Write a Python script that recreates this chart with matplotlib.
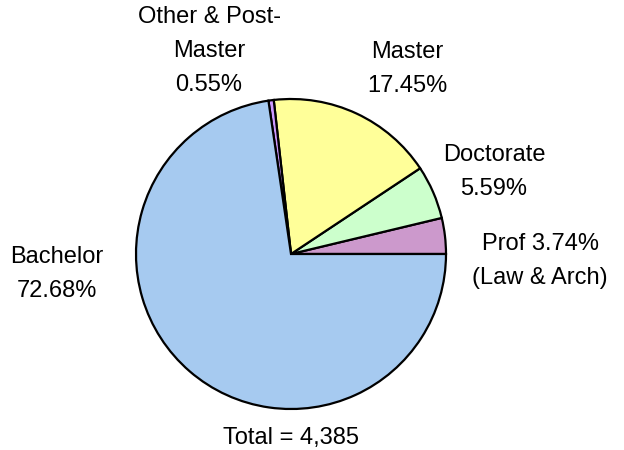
import matplotlib.pyplot as plt

plt.rcParams['font.family'] = ['Liberation Sans', 'DejaVu Sans']

categories = ['Prof', 'Doctorate', 'Master', 'Other & Post-Master', 'Bachelor']
shares = [3.74, 5.59, 17.45, 0.55, 72.68]
colors = ['#CC99CC', '#CCFFCC', '#FFFF99', '#CC99FF', '#A6CAF0']
total = 4385

fig = plt.figure(figsize=(6.24, 4.5), dpi=100)
ax = fig.add_axes([0, 0, 1, 1])
ax.axis('off')

ax.pie(shares, colors=colors, startangle=0, counterclock=True,
       center=(291, 196), radius=155, normalize=True,
       wedgeprops=dict(edgecolor='black', linewidth=1.6))
ax.set_xlim(0, 624)
ax.set_ylim(0, 450)
ax.set_aspect('auto')

labels = [
    f'Prof {shares[0]:.2f}%\n(Law & Arch)',
    f'Doctorate\n{shares[1]:.2f}%',
    f'Master\n{shares[2]:.2f}%',
    f'Other & Post-\nMaster\n{shares[3]:.2f}%',
    f'Bachelor\n{shares[4]:.2f}%',
]
spots = [(540, 189), (494, 278), (407, 381), (209, 399), (57, 176)]
for lab, (x, y) in zip(labels, spots):
    ax.text(x, y, lab, ha='center', va='center', fontsize=17, linespacing=1.72)

ax.text(291, 12, f'Total = {total:,}', ha='center', va='center', fontsize=17)

fig.savefig('out.png', dpi=100)
